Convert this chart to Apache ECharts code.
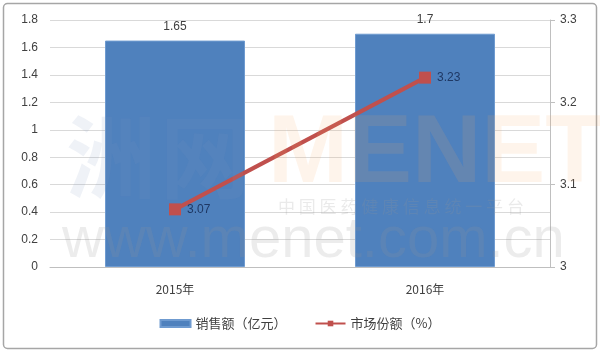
<!DOCTYPE html>
<html><head><meta charset="utf-8">
<script src="https://cdn.jsdelivr.net/npm/echarts@6/dist/echarts.min.js"></script>
<style>html,body{margin:0;padding:0;background:#fff}#c{width:600px;height:352px}</style>
</head><body><div id="c"></div>
<script>
const categories = ['2015年', '2016年'];
const salesValues = [1.65, 1.7];
const shareValues = [3.07, 3.23];
const leftTicks = { min: 0, max: 1.8, interval: 0.2 };
const rightTicks = { min: 3, max: 3.3, interval: 0.1 };
const seriesNames = ['销售额（亿元）', '市场份额（%）'];

const chart = echarts.init(document.getElementById('c'), null, { renderer: 'canvas' });
const font = '"Liberation Sans", "Noto Sans CJK SC", sans-serif';
chart.setOption({
  backgroundColor: '#fff',
  animation: false,
  textStyle: { fontFamily: font },
  grid: { left: 50, right: 50, top: 20, bottom: 85 },
  graphic: [
    { type: 'rect', shape: { x: 3.5, y: 3.5, width: 593, height: 345, r: 4 }, style: { fill: 'none', stroke: '#a6a6a6', lineWidth: 1.5 }, silent: true, z: 0 },
    { type: 'text', left: 268, top: 108, silent: true, z: 10, style: { text: 'MENET', fontSize: 96, fontWeight: 'bold', fontFamily: font, fill: 'rgba(245,170,100,0.13)' } },
    { type: 'text', left: 278, top: 198, silent: true, z: 10, style: { text: '中 国 医 药 健 康 信 息 统 一 平 台', fontSize: 17, fontFamily: '"Noto Sans CJK SC", sans-serif', fill: 'rgba(150,150,150,0.2)' } },
    { type: 'text', left: 62, top: 212, silent: true, z: 10, style: { text: 'www.menet.com.cn', fontSize: 58, fontFamily: font, fill: 'rgba(150,150,150,0.18)' } },
    { type: 'text', left: 66, top: 112, silent: true, z: 10, style: { text: '洲', fontSize: 90, fontWeight: 'bold', fontFamily: '"Noto Sans CJK SC", sans-serif', fill: 'rgba(120,150,190,0.12)' } },
    { type: 'text', left: 160, top: 112, silent: true, z: 10, style: { text: '网', fontSize: 90, fontWeight: 'bold', fontFamily: '"Noto Sans CJK SC", sans-serif', fill: 'rgba(120,150,190,0.12)' } }
  ],
  legend: {
    bottom: 17, left: 'center', itemGap: 28, itemWidth: 30, itemHeight: 7,
    textStyle: { fontSize: 13, color: '#404040', fontFamily: '"Noto Sans CJK SC", sans-serif' },
    data: [
      { name: seriesNames[0], icon: 'rect' },
      { name: seriesNames[1] }
    ]
  },
  xAxis: {
    type: 'category', data: categories,
    axisLine: { lineStyle: { color: '#bfbfbf' } },
    axisTick: { show: false },
    axisLabel: { color: '#404040', fontSize: 12, margin: 16, fontFamily: '"Noto Sans CJK SC", sans-serif' }
  },
  yAxis: [
    {
      type: 'value', min: leftTicks.min, max: leftTicks.max, interval: leftTicks.interval,
      axisLine: { show: false }, axisTick: { show: false },
      axisLabel: { color: '#404040', fontSize: 12, margin: 12, formatter: v => String(+v.toFixed(1)) },
      splitLine: { lineStyle: { color: '#d9d9d9' } }
    },
    {
      type: 'value', min: rightTicks.min, max: rightTicks.max, interval: rightTicks.interval,
      axisLine: { show: true, lineStyle: { color: '#bfbfbf' } },
      axisTick: { show: true, length: 5, lineStyle: { color: '#bfbfbf' } },
      axisLabel: { color: '#404040', fontSize: 12, margin: 10, formatter: v => String(+v.toFixed(1)) },
      splitLine: { show: false }
    }
  ],
  series: [
    {
      name: seriesNames[0], type: 'bar', data: salesValues, barWidth: '56%',
      itemStyle: { color: '#4f81bd', borderColor: '#6f9bd0', borderWidth: 1 },
      label: { show: true, position: 'top', distance: 8, color: '#404040', fontSize: 12 }
    },
    {
      name: seriesNames[1], type: 'line', yAxisIndex: 1, data: shareValues,
      symbol: 'rect', symbolSize: 12,
      lineStyle: { color: '#c0504d', width: 4 },
      itemStyle: { color: '#c0504d' },
      label: { show: true, position: 'right', distance: 6, color: '#1f3864', fontSize: 12 }
    }
  ]
});
</script></body></html>
